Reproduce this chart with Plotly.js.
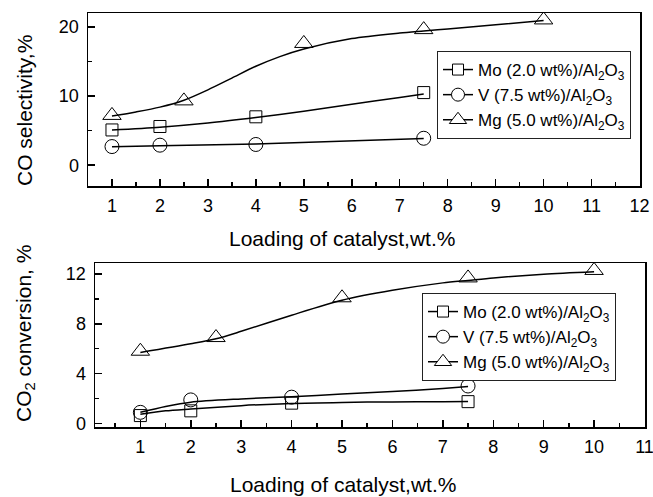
<!DOCTYPE html>
<html>
<head>
<meta charset="utf-8">
<script src="https://cdn.plot.ly/plotly-3.0.1.min.js"></script>
<style>
  html, body { margin: 0; padding: 0; background: #fff; }
  #chart { width: 653px; height: 497px; }
</style>
</head>
<body>
<div id="chart"></div>
<script>
// Catalyst loadings (wt.%) for each supported catalyst
const loadingMo = [1, 2, 4, 7.5];
const loadingV = [1, 2, 4, 7.5];
const loadingMg = [1, 2.5, 5, 7.5, 10];

// CO selectivity, % (measured)
const coSelMo = [5.1, 5.6, 7.0, 10.5];
const coSelV = [2.7, 2.9, 3.0, 3.9];
const coSelMg = [7.2, 9.3, 17.6, 19.6, 21.0];

// CO2 conversion, % (measured)
const convMo = [0.62, 1.0, 1.62, 1.74];
const convV = [0.88, 1.88, 2.1, 3.0];
const convMg = [5.8, 6.9, 10.1, 11.7, 12.3];

// Smoothed trend curves drawn through the measurements
const fitSelMoX = [1, 2, 3, 4, 5, 6, 7, 7.5];
const fitSelMoY = [5.1, 5.5, 6.1, 6.9, 7.8, 8.8, 9.8, 10.3];
const fitSelVX = [1, 2, 4, 7.5];
const fitSelVY = [2.68, 2.82, 3.08, 3.86];
const fitSelMgX = [1, 1.5, 2, 2.5, 3, 3.5, 4, 4.5, 5, 6, 7, 7.5, 8, 9, 10];
const fitSelMgY = [7.1, 7.7, 8.4, 9.4, 10.9, 12.6, 14.3, 15.7, 16.8, 18.3, 19.1, 19.4, 19.7, 20.3, 20.9];

const fitConvMoX = [1, 1.5, 2, 3, 4, 5, 6, 7, 7.5];
const fitConvMoY = [0.72, 1.0, 1.15, 1.42, 1.6, 1.68, 1.72, 1.74, 1.75];
const fitConvVX = [1, 1.5, 2, 3, 4, 5, 6, 7, 7.5];
const fitConvVY = [0.88, 1.35, 1.7, 1.96, 2.14, 2.35, 2.55, 2.8, 2.95];
const fitConvMgX = [1, 2, 2.5, 3, 4, 5, 6, 7, 7.5, 8, 9, 10];
const fitConvMgY = [5.7, 6.4, 6.8, 7.4, 8.7, 9.9, 10.7, 11.3, 11.5, 11.7, 12.0, 12.2];

const seriesNames = [
  'Mo (2.0 wt%)/Al<sub>2</sub>O<sub>3</sub>',
  'V (7.5 wt%)/Al<sub>2</sub>O<sub>3</sub>',
  'Mg (5.0 wt%)/Al<sub>2</sub>O<sub>3</sub>'
];
const symbols = ['square-open', 'circle-open', 'triangle-up-open'];
const symbolSizes = [12, 14, 16];

const W = 653, H = 497;
const px = v => v / W;
const py = v => 1 - v / H;

const FONT = '"Liberation Sans", Arial, sans-serif';

function curve(x, y, xa, ya) {
  return {
    x: x, y: y, xaxis: xa, yaxis: ya, mode: 'lines', showlegend: false,
    line: { color: '#000', width: 1.5, shape: 'spline', smoothing: 0.8 },
    hoverinfo: 'skip'
  };
}
function points(x, y, i, xa, ya) {
  return {
    x: x, y: y, xaxis: xa, yaxis: ya, mode: 'markers', showlegend: false,
    name: seriesNames[i],
    marker: { symbol: symbols[i], size: symbolSizes[i], color: '#000',
              line: { color: '#000', width: 1 } }
  };
}
// Legend keys: line with a white-filled symbol, one group per series
function legendEntry(i, legendId) {
  const top = legendId === 'legend';
  return {
    x: [null], y: [null], mode: 'lines+markers', name: seriesNames[i],
    legend: legendId, legendgroup: legendId + '-' + i,
    xaxis: top ? 'x' : 'x2', yaxis: top ? 'y' : 'y2',
    line: { color: '#000', width: 1.5 },
    marker: { symbol: symbols[i].replace('-open', ''), size: symbolSizes[i] - 1,
              color: '#fff', line: { color: '#000', width: 1 } }
  };
}

const traces = [
  curve(fitSelMoX, fitSelMoY, 'x', 'y'),
  curve(fitSelVX, fitSelVY, 'x', 'y'),
  curve(fitSelMgX, fitSelMgY, 'x', 'y'),
  points(loadingMo, coSelMo, 0, 'x', 'y'),
  points(loadingV, coSelV, 1, 'x', 'y'),
  points(loadingMg, coSelMg, 2, 'x', 'y'),
  curve(fitConvMoX, fitConvMoY, 'x2', 'y2'),
  curve(fitConvVX, fitConvVY, 'x2', 'y2'),
  curve(fitConvMgX, fitConvMgY, 'x2', 'y2'),
  points(loadingMo, convMo, 0, 'x2', 'y2'),
  points(loadingV, convV, 1, 'x2', 'y2'),
  points(loadingMg, convMg, 2, 'x2', 'y2'),
  legendEntry(0, 'legend'), legendEntry(1, 'legend'), legendEntry(2, 'legend'),
  legendEntry(0, 'legend2'), legendEntry(1, 'legend2'), legendEntry(2, 'legend2')
];

const axisBase = {
  showline: true, mirror: true, linecolor: '#000', linewidth: 1.5,
  showgrid: false, zeroline: false,
  ticks: 'inside', ticklen: 7, tickwidth: 1.5, tickcolor: '#000',
  tickfont: { family: FONT, size: 18, color: '#000' },
  ticklabeloverflow: 'allow',
  fixedrange: true
};

const legendBase = {
  xanchor: 'left', yanchor: 'top',
  bgcolor: '#fff', bordercolor: '#222', borderwidth: 1,
  font: { family: FONT, size: 17, color: '#000' },
  tracegroupgap: 0
};

const titleFont = { family: FONT, size: 21, color: '#000' };

const layout = {
  width: W, height: H,
  margin: { l: 0, r: 0, t: 0, b: 0 },
  paper_bgcolor: '#fff', plot_bgcolor: '#fff',
  showlegend: true,
  xaxis: Object.assign({}, axisBase, {
    domain: [px(88), px(640)], anchor: 'y', range: [0.5, 12.01],
    tick0: 1, dtick: 1, ticklabelstandoff: 3,
    minor: { ticks: 'inside', dtick: 0.5, tick0: 0.5, ticklen: 4, tickwidth: 1.5, tickcolor: '#000' }
  }),
  yaxis: Object.assign({}, axisBase, {
    domain: [py(186), py(13)], anchor: 'x', range: [-3, 22],
    tick0: 0, dtick: 10, ticklabelstandoff: 4,
    minor: { ticks: 'inside', dtick: 5, tick0: 0, ticklen: 4, tickwidth: 1.5, tickcolor: '#000' }
  }),
  xaxis2: Object.assign({}, axisBase, {
    domain: [px(95), px(645)], anchor: 'y2', range: [0.1, 11.01],
    tick0: 1, dtick: 1, ticklabelstandoff: 3,
    minor: { ticks: 'inside', dtick: 0.5, tick0: 0.5, ticklen: 4, tickwidth: 1.5, tickcolor: '#000' }
  }),
  yaxis2: Object.assign({}, axisBase, {
    domain: [py(427), py(263)], anchor: 'x2', range: [-0.3, 12.9],
    tick0: 0, dtick: 4, ticklabelstandoff: 4,
    minor: { ticks: 'inside', dtick: 2, tick0: 0, ticklen: 4, tickwidth: 1.5, tickcolor: '#000' }
  }),
  legend: Object.assign({}, legendBase, { x: px(437), y: py(51) }),
  legend2: Object.assign({}, legendBase, { x: px(422), y: py(293) }),
  annotations: [
    { text: 'Loading of catalyst,wt.%', xref: 'paper', yref: 'paper',
      x: px(342), y: py(238), xanchor: 'center', yanchor: 'middle',
      showarrow: false, font: titleFont },
    { text: 'CO selectivity,%', xref: 'paper', yref: 'paper', textangle: -90,
      x: px(24), y: py(111), xanchor: 'center', yanchor: 'middle',
      showarrow: false, font: titleFont },
    { text: 'Loading of catalyst,wt.%', xref: 'paper', yref: 'paper',
      x: px(343), y: py(484), xanchor: 'center', yanchor: 'middle',
      showarrow: false, font: titleFont },
    { text: 'CO<sub>2</sub> conversion, %', xref: 'paper', yref: 'paper', textangle: -90,
      x: px(25), y: py(334), xanchor: 'center', yanchor: 'middle',
      showarrow: false, font: titleFont }
  ]
};

Plotly.newPlot('chart', traces, layout, { displayModeBar: false, staticPlot: true });
</script>
</body>
</html>
